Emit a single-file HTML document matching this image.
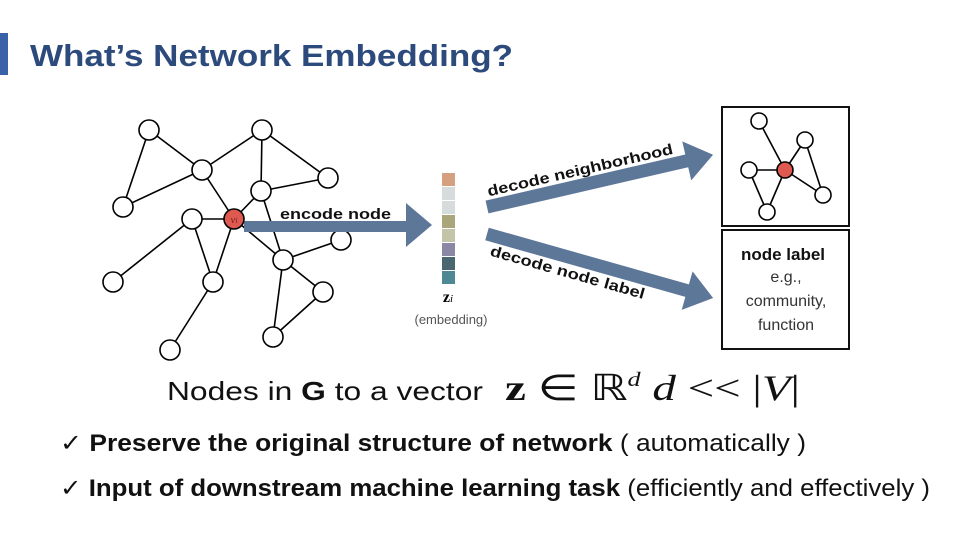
<!DOCTYPE html>
<html><head><meta charset="utf-8"><style>
body{margin:0;background:#fff}
svg{display:block}
</style></head><body>
<svg width="960" height="540" viewBox="0 0 960 540" xmlns="http://www.w3.org/2000/svg" font-family="Liberation Sans, sans-serif">
<rect x="0" y="33" width="8" height="42" fill="#3a62a8"/>
<text x="30" y="66" font-size="31" font-weight="bold" fill="#2c4a7c" textLength="483" lengthAdjust="spacingAndGlyphs">What’s Network Embedding?</text>
<g stroke="#000" stroke-width="1.6">
<line x1="149" y1="130" x2="202" y2="170"/><line x1="149" y1="130" x2="123" y2="207"/><line x1="202" y1="170" x2="123" y2="207"/>
<line x1="202" y1="170" x2="262" y2="130"/><line x1="202" y1="170" x2="234" y2="219"/><line x1="262" y1="130" x2="261" y2="191"/>
<line x1="262" y1="130" x2="328" y2="178"/><line x1="328" y1="178" x2="261" y2="191"/><line x1="261" y1="191" x2="234" y2="219"/>
<line x1="261" y1="191" x2="283" y2="260"/><line x1="234" y1="219" x2="192" y2="219"/><line x1="234" y1="219" x2="213" y2="282"/>
<line x1="234" y1="219" x2="283" y2="260"/><line x1="192" y1="219" x2="213" y2="282"/><line x1="192" y1="219" x2="113" y2="282"/>
<line x1="213" y1="282" x2="170" y2="350"/><line x1="283" y1="260" x2="341" y2="240"/><line x1="283" y1="260" x2="323" y2="292"/>
<line x1="283" y1="260" x2="273" y2="337"/><line x1="323" y1="292" x2="273" y2="337"/>
</g>
<g stroke="#000" stroke-width="1.6" fill="#fff">
<circle cx="149" cy="130" r="10"/><circle cx="262" cy="130" r="10"/><circle cx="202" cy="170" r="10"/><circle cx="328" cy="178" r="10"/>
<circle cx="123" cy="207" r="10"/><circle cx="261" cy="191" r="10"/><circle cx="192" cy="219" r="10"/><circle cx="341" cy="240" r="10"/>
<circle cx="283" cy="260" r="10"/><circle cx="113" cy="282" r="10"/><circle cx="213" cy="282" r="10"/><circle cx="323" cy="292" r="10"/>
<circle cx="273" cy="337" r="10"/><circle cx="170" cy="350" r="10"/>
</g>
<polygon points="244,221 406,221 406,203 432,225 406,247 406,232 244,232" fill="#5d7799"/>
<circle cx="234" cy="219" r="10" fill="#de5a50" stroke="#000" stroke-width="1.6"/>
<text x="234" y="223" font-size="11" font-style="italic" fill="#7a2020" text-anchor="middle" font-family="Liberation Serif, serif">v<tspan font-size="8">i</tspan></text>
<text x="280" y="219" font-size="15" font-weight="bold" fill="#111" textLength="111" lengthAdjust="spacingAndGlyphs">encode node</text>
<g>
<rect x="442" y="173" width="13" height="13" fill="#d4a07f"/>
<rect x="442" y="187" width="13" height="13" fill="#d6dcdc"/>
<rect x="442" y="201" width="13" height="13" fill="#d6dcdc"/>
<rect x="442" y="215" width="13" height="13" fill="#a8a67a"/>
<rect x="442" y="229" width="13" height="13" fill="#c4c4a8"/>
<rect x="442" y="243" width="13" height="13" fill="#8a88a4"/>
<rect x="442" y="257" width="13" height="13" fill="#4a6670"/>
<rect x="442" y="271" width="13" height="13" fill="#4e8894"/>
</g>
<text x="448" y="302" font-size="16" font-weight="bold" text-anchor="middle" font-family="Liberation Serif, serif">z<tspan font-size="11" font-style="italic" font-weight="normal">i</tspan></text>
<text x="451" y="324" font-size="13" fill="#555" text-anchor="middle">(embedding)</text>
<g transform="translate(487,207) rotate(-13)">
<polygon points="0,-6.5 205,-6.5 205,-20 232,0 205,20 205,6.5 0,6.5" fill="#5d7799"/>
<text x="4" y="-10" font-size="15" font-weight="bold" fill="#111" textLength="190" lengthAdjust="spacingAndGlyphs">decode neighborhood</text>
</g>
<g transform="translate(487,234) rotate(15.8)">
<polygon points="0,-6.5 208,-6.5 208,-20 235,0 208,20 208,6.5 0,6.5" fill="#5d7799"/>
<text x="8" y="20" font-size="15" font-weight="bold" fill="#111" textLength="160" lengthAdjust="spacingAndGlyphs">decode node label</text>
</g>
<rect x="722" y="107" width="127" height="119" fill="#fff" stroke="#111" stroke-width="2"/>
<rect x="722" y="230" width="127" height="119" fill="#fff" stroke="#111" stroke-width="2"/>
<g stroke="#000" stroke-width="1.6">
<line x1="759" y1="121" x2="785" y2="170"/><line x1="749" y1="170" x2="785" y2="170"/><line x1="749" y1="170" x2="767" y2="212"/>
<line x1="785" y1="170" x2="767" y2="212"/><line x1="785" y1="170" x2="805" y2="140"/><line x1="805" y1="140" x2="823" y2="195"/>
<line x1="785" y1="170" x2="823" y2="195"/>
</g>
<g stroke="#000" stroke-width="1.6" fill="#fff">
<circle cx="759" cy="121" r="8"/><circle cx="749" cy="170" r="8"/><circle cx="767" cy="212" r="8"/><circle cx="805" cy="140" r="8"/><circle cx="823" cy="195" r="8"/>
<circle cx="785" cy="170" r="8" fill="#de5a50"/>
</g>
<text x="783" y="260" font-size="17" font-weight="bold" text-anchor="middle" fill="#111">node label</text>
<text x="786" y="282" font-size="16" text-anchor="middle" fill="#333">e.g.,</text>
<text x="786" y="306" font-size="16" text-anchor="middle" fill="#333">community,</text>
<text x="786" y="330" font-size="16" text-anchor="middle" fill="#333">function</text>
<text x="167" y="400" font-size="26" fill="#111" textLength="316" lengthAdjust="spacingAndGlyphs">Nodes in <tspan font-weight="bold">G</tspan>  to  a vector</text>
<text x="505" y="400" font-size="36" font-family="Liberation Serif, serif" fill="#111" textLength="295" lengthAdjust="spacingAndGlyphs"><tspan font-weight="bold">z</tspan> ∈ ℝ<tspan font-size="20" dy="-14" font-style="italic">d</tspan><tspan dy="14" font-style="italic"> d</tspan> &lt;&lt; |<tspan font-style="italic">V</tspan>|</text>
<text x="60" y="451" font-size="24" fill="#111" textLength="746" lengthAdjust="spacingAndGlyphs">✓ <tspan font-weight="bold">Preserve  the original structure  of network</tspan> ( automatically  )</text>
<text x="60" y="496" font-size="24" fill="#111" textLength="870" lengthAdjust="spacingAndGlyphs">✓ <tspan font-weight="bold">Input of downstream machine learning task</tspan> (efficiently and effectively )</text>
</svg>
</body></html>
